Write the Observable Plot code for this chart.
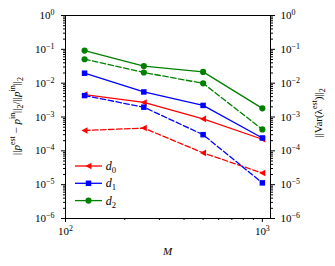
<!DOCTYPE html>
<html><head><meta charset="utf-8">
<script src="https://cdn.jsdelivr.net/npm/d3@7"></script>
<script src="https://cdn.jsdelivr.net/npm/@observablehq/plot@0.6"></script>
<style>body{margin:0;background:#fff}</style>
</head><body><div id="chart"></div>
<script>
const M = [125, 250, 500, 1000];
const seriesNames = ["d0", "d1", "d2"];
const colors = ["#ff0000", "#0000ff", "#008000"];
// solid: relative error (left axis); dashed: variance norm (right axis)
const errD0 = [4.6e-3, 2.7e-3, 8.8e-4, 2.2e-4];
const errD1 = [1.97e-2, 5.5e-3, 2.2e-3, 2.4e-4];
const errD2 = [9.2e-2, 3.2e-2, 2.15e-2, 1.8e-3];
const varD0 = [4.0e-4, 4.7e-4, 8.7e-5, 2.2e-5];
const varD1 = [4.3e-3, 1.95e-3, 3.0e-4, 1.13e-5];
const varD2 = [5.1e-2, 2.07e-2, 9.9e-3, 4.3e-4];
const majorY = [1e-6, 1e-5, 1e-4, 1e-3, 1e-2, 1e-1, 1];
const majorX = [100, 1000];

const minorY = [];
for (let k = -6; k < 0; k++) for (let m = 2; m <= 9; m++) minorY.push(m * Math.pow(10, k));
const minorX = [];
for (let m = 2; m <= 9; m++) minorX.push(m * 100);

const errRows = [], varRows = [];
[errD0, errD1, errD2].forEach((arr, i) => arr.forEach((v, j) => errRows.push({M: M[j], v, s: seriesNames[i]})));
[varD0, varD1, varD2].forEach((arr, i) => arr.forEach((v, j) => varRows.push({M: M[j], v, s: seriesNames[i]})));

const triLeft = {
  draw(ctx, size) {
    const r = Math.sqrt(size / Math.PI);
    ctx.moveTo(-r, 0);
    ctx.lineTo(r * 0.95, -r * 1.05);
    ctx.lineTo(r * 0.95, r * 1.05);
    ctx.closePath();
  }
};
const symbols = [triLeft, d3.symbolSquare, d3.symbolCircle];

const expFmt = d => "10^" + String(Math.round(Math.log10(d))).replace("-", "\u2212");
const blank = () => "";
const FS = 11;

const svg = Plot.plot({
  width: 335, height: 266,
  marginLeft: 65, marginRight: 65, marginTop: 15, marginBottom: 48,
  x: {type: "log", domain: [100, 1100]},
  y: {type: "log", domain: [1e-6, 1]},
  color: {domain: seriesNames, range: colors},
  symbol: {domain: seriesNames, range: symbols},
  style: {fontFamily: "Liberation Serif", fontSize: FS + "px", background: "white", color: "black"},
  marks: [
    Plot.axisY(minorY, {tickSize: 2, tickFormat: blank, label: null}),
    Plot.axisY(minorY, {anchor: "right", tickSize: 2, tickFormat: blank, label: null}),
    Plot.axisY(majorY, {tickSize: 4, tickPadding: 7, tickFormat: expFmt, label: null}),
    Plot.axisY(majorY, {anchor: "right", tickSize: 4, tickPadding: 6, tickFormat: expFmt, label: null}),
    Plot.axisX(minorX, {tickSize: 2, tickFormat: blank, label: null}),
    Plot.axisX(majorX, {tickSize: 4, tickPadding: 5, tickFormat: expFmt, label: null}),
    Plot.line(errRows, {x: "M", y: "v", z: "s", stroke: "s", strokeWidth: 1.3}),
    Plot.line(varRows, {x: "M", y: "v", z: "s", stroke: "s", strokeWidth: 1.3, strokeDasharray: "5.5,2.5"}),
    Plot.dot(errRows, {x: "M", y: "v", symbol: "s", fill: "s", r: 3.1}),
    Plot.dot(varRows, {x: "M", y: "v", symbol: "s", fill: "s", r: 3.1}),
    Plot.frame({stroke: "black", strokeWidth: 1})
  ]
});

const s = d3.select(svg);
s.selectAll("text").each(function () {
  const m = /^10\^(.*)$/.exec(this.textContent);
  if (m) {
    const t = d3.select(this);
    t.text("10");
    t.append("tspan").attr("dy", "-0.5em").attr("font-size", "0.72em").text(m[1]);
  }
});

function richText(g, parts) {
  let shift = 0;
  parts.forEach(([txt, mode]) => {
    const ts = g.append("tspan").text(txt);
    let target = 0;
    if (mode === "sup") { target = -0.45; ts.attr("font-size", "0.72em"); }
    if (mode === "sub") { target = 0.25; ts.attr("font-size", "0.72em"); }
    if (mode === "i") ts.attr("font-style", "italic");
    const dyPx = (target - shift) * FS;
    if (dyPx !== 0) ts.attr("dy", dyPx + "px");
    shift = target;
  });
}

const ylab = s.append("text").attr("transform", "translate(20,116) rotate(-90)")
  .attr("text-anchor", "middle").attr("font-size", FS).attr("fill", "black");
richText(ylab, [["||", "n"], ["p", "i"], ["est", "sup"], [" \u2212 ", "n"], ["p", "i"], ["in", "sup"], ["||", "n"], ["2", "sub"], ["/||", "n"], ["p", "i"], ["in", "sup"], ["||", "n"], ["2", "sub"]]);

const rlab = s.append("text").attr("transform", "translate(322,113) rotate(-90)")
  .attr("text-anchor", "middle").attr("font-size", FS).attr("fill", "black");
richText(rlab, [["||Var(", "n"], ["\u03bb", "n"], ["est", "sup"], [")||", "n"], ["2", "sub"]]);

s.append("text").attr("x", 167.5).attr("y", 255).attr("text-anchor", "middle")
  .attr("font-size", FS).attr("font-style", "italic").attr("fill", "black").text("M");

// legend
const lg = s.append("g");
seriesNames.forEach((name, i) => {
  const y = 166 + i * 17.3;
  lg.append("line").attr("x1", 75).attr("x2", 102).attr("y1", y).attr("y2", y)
    .attr("stroke", colors[i]).attr("stroke-width", 1.3);
  lg.append("path").attr("transform", `translate(88.5,${y})`)
    .attr("d", d3.symbol(symbols[i], 3.1 * 3.1 * Math.PI)()).attr("fill", colors[i]);
  const t = lg.append("text").attr("x", 111).attr("y", y + 4).attr("font-size", FS + 1).attr("fill", "black");
  t.append("tspan").attr("font-style", "italic").text("d");
  t.append("tspan").attr("font-size", "0.72em").attr("dy", "3px").text(String(i));
});

document.getElementById("chart").appendChild(svg);
</script>
</body></html>
